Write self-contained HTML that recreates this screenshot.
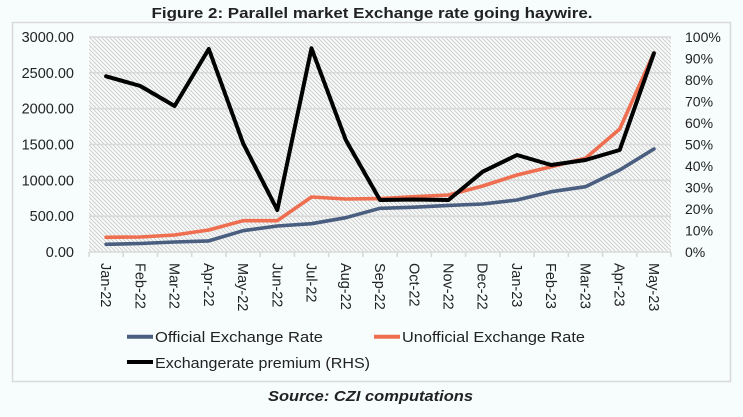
<!DOCTYPE html>
<html><head><meta charset="utf-8"><style>
html,body{margin:0;padding:0;background:#f7fdfd;}
svg{display:block;font-family:"Liberation Sans",sans-serif;}
</style></head><body>
<svg width="743" height="417" viewBox="0 0 743 417" xmlns="http://www.w3.org/2000/svg">
<defs>
<pattern id="h" width="4" height="4" patternUnits="userSpaceOnUse">
<rect width="4" height="4" fill="#f9fafa"/>
<path d="M-1,-1 L5,5 M-1,3 L1,5 M3,-1 L5,1" stroke="#c9cbcb" stroke-width="0.9"/>
</pattern>
</defs>
<rect width="743" height="417" fill="#f7fdfd"/>
<text x="372" y="18" text-anchor="middle" font-size="15" font-weight="bold" fill="#222" textLength="441" lengthAdjust="spacingAndGlyphs">Figure 2: Parallel market Exchange rate going haywire.</text>
<rect x="12.5" y="22.5" width="718" height="359" fill="none" stroke="#d9d9d9" stroke-width="1.5"/>
<rect x="89" y="37" width="582" height="215" fill="url(#h)"/>
<g stroke="#d9d9d9" stroke-width="1.6">
<line x1="89" x2="671" y1="37" y2="37"/>
<line x1="89" x2="671" y1="72.8" y2="72.8"/>
<line x1="89" x2="671" y1="108.7" y2="108.7"/>
<line x1="89" x2="671" y1="144.5" y2="144.5"/>
<line x1="89" x2="671" y1="180.3" y2="180.3"/>
<line x1="89" x2="671" y1="216.2" y2="216.2"/>
<line x1="89" x2="671" y1="252" y2="252"/>
<path d="M89,252v5M123.2,252v5M157.5,252v5M191.7,252v5M226,252v5M260.2,252v5M294.4,252v5M328.7,252v5M362.9,252v5M397.2,252v5M431.4,252v5M465.6,252v5M499.9,252v5M534.1,252v5M568.4,252v5M602.6,252v5M636.8,252v5M671,252v5"/>
</g>
<g font-size="14.5" fill="#222" text-anchor="end">
<text x="74" y="42">3000.00</text>
<text x="74" y="77.8">2500.00</text>
<text x="74" y="113.7">2000.00</text>
<text x="74" y="149.5">1500.00</text>
<text x="74" y="185.3">1000.00</text>
<text x="74" y="221.2">500.00</text>
<text x="74" y="257">0.00</text>
</g>
<g font-size="14" fill="#222">
<text x="685" y="42">100%</text>
<text x="685" y="63.5">90%</text>
<text x="685" y="85">80%</text>
<text x="685" y="106.5">70%</text>
<text x="685" y="128">60%</text>
<text x="685" y="149.5">50%</text>
<text x="685" y="171">40%</text>
<text x="685" y="192.5">30%</text>
<text x="685" y="214">20%</text>
<text x="685" y="235.5">10%</text>
<text x="685" y="257">0%</text>
</g>
<g font-size="14.5" fill="#222">
<text transform="translate(101.1,263) rotate(90)">Jan-22</text>
<text transform="translate(135.3,263) rotate(90)">Feb-22</text>
<text transform="translate(169.6,263) rotate(90)">Mar-22</text>
<text transform="translate(203.8,263) rotate(90)">Apr-22</text>
<text transform="translate(238.1,263) rotate(90)">May-22</text>
<text transform="translate(272.3,263) rotate(90)">Jun-22</text>
<text transform="translate(306.5,263) rotate(90)">Jul-22</text>
<text transform="translate(340.8,263) rotate(90)">Aug-22</text>
<text transform="translate(375,263) rotate(90)">Sep-22</text>
<text transform="translate(409.3,263) rotate(90)">Oct-22</text>
<text transform="translate(443.5,263) rotate(90)">Nov-22</text>
<text transform="translate(477.7,263) rotate(90)">Dec-22</text>
<text transform="translate(512,263) rotate(90)">Jan-23</text>
<text transform="translate(546.2,263) rotate(90)">Feb-23</text>
<text transform="translate(580.5,263) rotate(90)">Mar-23</text>
<text transform="translate(614.7,263) rotate(90)">Apr-23</text>
<text transform="translate(648.9,263) rotate(90)">May-23</text>
</g>
<g fill="none" stroke-linejoin="round" stroke-linecap="round">
<polyline stroke="#4a5f80" stroke-width="3.6" points="106.1,244.3 140.3,243.5 174.6,242 208.8,240.9 243.1,230.7 277.3,226 311.5,223.7 345.8,217.7 380,208.3 414.3,207.2 448.5,205.4 482.7,204 517,200 551.2,191.7 585.5,186.7 619.7,170 653.9,149"/>
<polyline stroke="#ef6e4f" stroke-width="3.6" points="106.1,237.3 140.3,237 174.6,235 208.8,230 243.1,220.7 277.3,220.7 311.5,197 345.8,199 380,198.6 414.3,196.7 448.5,195 482.7,186 517,175 551.2,166.7 585.5,158.3 619.7,129 653.9,53"/>
<polyline stroke="#000" stroke-width="4" points="106.1,76.3 140.3,86 174.6,106 208.8,49 243.1,143.3 277.3,210 311.5,48.3 345.8,140 380,200 414.3,199.5 448.5,200 482.7,171.7 517,155 551.2,165 585.5,160 619.7,150 653.9,53.3"/>
</g>
<line x1="127" x2="153" y1="336.7" y2="336.7" stroke="#4a5f80" stroke-width="4"/>
<line x1="374" x2="400" y1="336.7" y2="336.7" stroke="#ef6e4f" stroke-width="4"/>
<line x1="127" x2="153" y1="362" y2="362" stroke="#000" stroke-width="4"/>
<g font-size="15" fill="#222">
<text x="155" y="342" textLength="168" lengthAdjust="spacingAndGlyphs">Official Exchange Rate</text>
<text x="402" y="342" textLength="183" lengthAdjust="spacingAndGlyphs">Unofficial Exchange Rate</text>
<text x="155" y="368" textLength="215" lengthAdjust="spacingAndGlyphs">Exchangerate premium (RHS)</text>
</g>
<text x="370.5" y="401" text-anchor="middle" font-size="15" font-weight="bold" font-style="italic" fill="#222" textLength="205" lengthAdjust="spacingAndGlyphs">Source: CZI computations</text>
</svg>
</body></html>
